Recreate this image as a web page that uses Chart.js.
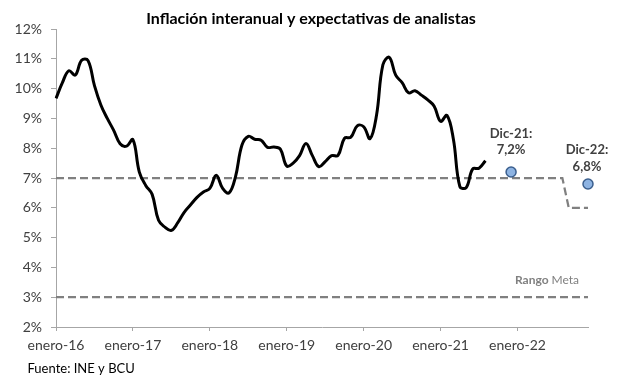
<!DOCTYPE html>
<html><head><meta charset="utf-8">
<script src="https://cdn.jsdelivr.net/npm/chart.js@4/dist/chart.umd.min.js"></script>
<style>html,body{margin:0;padding:0;background:#fff;}#wrap{width:617px;height:382px;}</style>
</head><body><div id="wrap"><canvas id="c" width="617" height="382"></canvas></div>
<script>
const monthNames = ['enero','febrero','marzo','abril','mayo','junio','julio','agosto','septiembre','octubre','noviembre','diciembre'];
const years = ['16','17','18','19','20','21','22'];
const categories = [];
years.forEach(y => monthNames.forEach(m => categories.push(m + '-' + y)));
const xTickLabels = ['enero-16','enero-17','enero-18','enero-19','enero-20','enero-21','enero-22'];

// Inflación interanual (%), enero-16 .. agosto-21
const inflation = [
  9.67,10.2,10.6,10.45,10.95,10.94,10.1,9.45,9.0,8.6,8.15,8.07,
  8.29,7.2,6.75,6.45,5.58,5.35,5.24,5.5,5.85,6.1,6.35,6.53,
  6.65,7.09,6.65,6.5,7.04,8.1,8.4,8.3,8.27,8.03,8.04,7.97,
  7.4,7.5,7.75,8.16,7.75,7.38,7.55,7.75,7.76,8.33,8.37,8.75,
  8.72,8.32,9.1,10.8,11.05,10.45,10.2,9.86,9.93,9.78,9.62,9.41,
  8.9,9.1,8.3,6.72,6.68,7.3,7.33,7.58
];
// Rango meta: límite superior e inferior (%)
const targetUpper = [
  7,7,7,7,7,7,7,7,7,7,7,7,
  7,7,7,7,7,7,7,7,7,7,7,7,
  7,7,7,7,7,7,7,7,7,7,7,7,
  7,7,7,7,7,7,7,7,7,7,7,7,
  7,7,7,7,7,7,7,7,7,7,7,7,
  7,7,7,7,7,7,7,7,7,7,7,7,
  7,7,7,7,7,7,7,7,6,6,6,6
];
const targetLower = [
  3,3,3,3,3,3,3,3,3,3,3,3,
  3,3,3,3,3,3,3,3,3,3,3,3,
  3,3,3,3,3,3,3,3,3,3,3,3,
  3,3,3,3,3,3,3,3,3,3,3,3,
  3,3,3,3,3,3,3,3,3,3,3,3,
  3,3,3,3,3,3,3,3,3,3,3,3,
  3,3,3,3,3,3,3,3,3,3,3,3
];
// Expectativas de analistas
const expectCategories = ['diciembre-21','diciembre-22'];
const expectValues = [7.2, 6.8];
const expectTitles = ['Dic-21:','Dic-22:'];
const expectTexts = ['7,2%','6,8%'];

const FONT = 'Lato';
const TITLE = 'Inflación interanual y expectativas de analistas';

const annot = {
  id: 'annot',
  afterDatasetsDraw(chart) {
    const ctx = chart.ctx, xs = chart.scales.x, ys = chart.scales.y;
    ctx.save();
    // title
    ctx.font = 'bold 16px ' + FONT;
    ctx.fillStyle = '#000';
    ctx.textAlign = 'center';
    ctx.textBaseline = 'middle';
    ctx.fillText(TITLE, 311, 19);
    // expectation labels
    const offs = [[0,-38.5,-22],[-1,-34,-17.3]];
    ctx.font = 'bold 13px ' + FONT;
    ctx.fillStyle = '#404040';
    expectCategories.forEach((c, i) => {
      const px = xs.getPixelForValue(categories.indexOf(c));
      const py = ys.getPixelForValue(expectValues[i]);
      ctx.fillText(expectTitles[i], px + offs[i][0], py + offs[i][1]);
      ctx.fillText(expectTexts[i], px + offs[i][0], py + offs[i][2]);
    });
    // Rango Meta
    const ry = ys.getPixelForValue(3) - 17;
    ctx.textAlign = 'left';
    ctx.fillStyle = '#808080';
    ctx.font = 'bold 12px ' + FONT;
    const w1 = ctx.measureText('Rango ').width;
    ctx.font = '12px ' + FONT;
    const w2 = ctx.measureText('Meta').width;
    const rx = chart.chartArea.right - 9 - (w1 + w2);
    ctx.font = 'bold 12px ' + FONT;
    ctx.fillText('Rango ', rx, ry);
    ctx.font = '12px ' + FONT;
    ctx.fillText('Meta', rx + w1, ry);
    // source
    ctx.fillStyle = '#000';
    ctx.font = '13px ' + FONT;
    ctx.fillText('Fuente: INE y BCU', 27.5, 369);
    ctx.restore();
  }
};

new Chart(document.getElementById('c').getContext('2d'), {
  type: 'line',
  data: {
    labels: categories,
    datasets: [
      {label:'Expectativas', data: expectCategories.map((c,i)=>({x:c, y:expectValues[i]})), showLine:false,
       pointRadius:5, pointBackgroundColor:'#8db3e2', pointBorderColor:'#3b5f8e', pointBorderWidth:1.5, clip:false, order:0},
      {label:'Inflación', data: inflation, borderColor:'#000', borderWidth:3, pointRadius:0, tension:0.4, fill:false, order:1},
      {label:'Meta sup', data: targetUpper, borderColor:'#808080', borderWidth:2.25, borderDash:[8,4], pointRadius:0, tension:0, order:2},
      {label:'Meta inf', data: targetLower, borderColor:'#808080', borderWidth:2.25, borderDash:[8,4], pointRadius:0, tension:0, order:2}
    ]
  },
  options: {
    responsive:false, animation:false, devicePixelRatio:1,
    layout:{padding:{left:0,right:29,top:29,bottom:0}},
    plugins:{ legend:{display:false}, tooltip:{enabled:false}, title:{display:false} },
    scales:{
      x:{type:'category', offset:false,
        grid:{display:true, drawOnChartArea:false, drawTicks:true, tickLength:4,
          color: c => (c.index % 12 === 0) ? '#a6a6a6' : 'rgba(0,0,0,0)'},
        border:{color:'#a6a6a6', width:1},
        ticks:{autoSkip:false, maxRotation:0, minRotation:0, padding:6, color:'#404040',
          font:{family:FONT, size:14},
          callback:(v,i)=> xTickLabels.includes(categories[i]) ? categories[i] : ''},
        afterFit: s => { s.height = 55; }
      },
      y:{min:2, max:12,
        ticks:{stepSize:1, padding:9, color:'#404040', font:{family:FONT, size:14}, callback:v=>v+'%'},
        grid:{display:true, drawOnChartArea:false, drawTicks:true, tickLength:5, color:'#a6a6a6'},
        border:{color:'#a6a6a6', width:1},
        afterFit: s => { s.width = 56; }
      }
    }
  },
  plugins:[annot]
});
</script></body></html>
